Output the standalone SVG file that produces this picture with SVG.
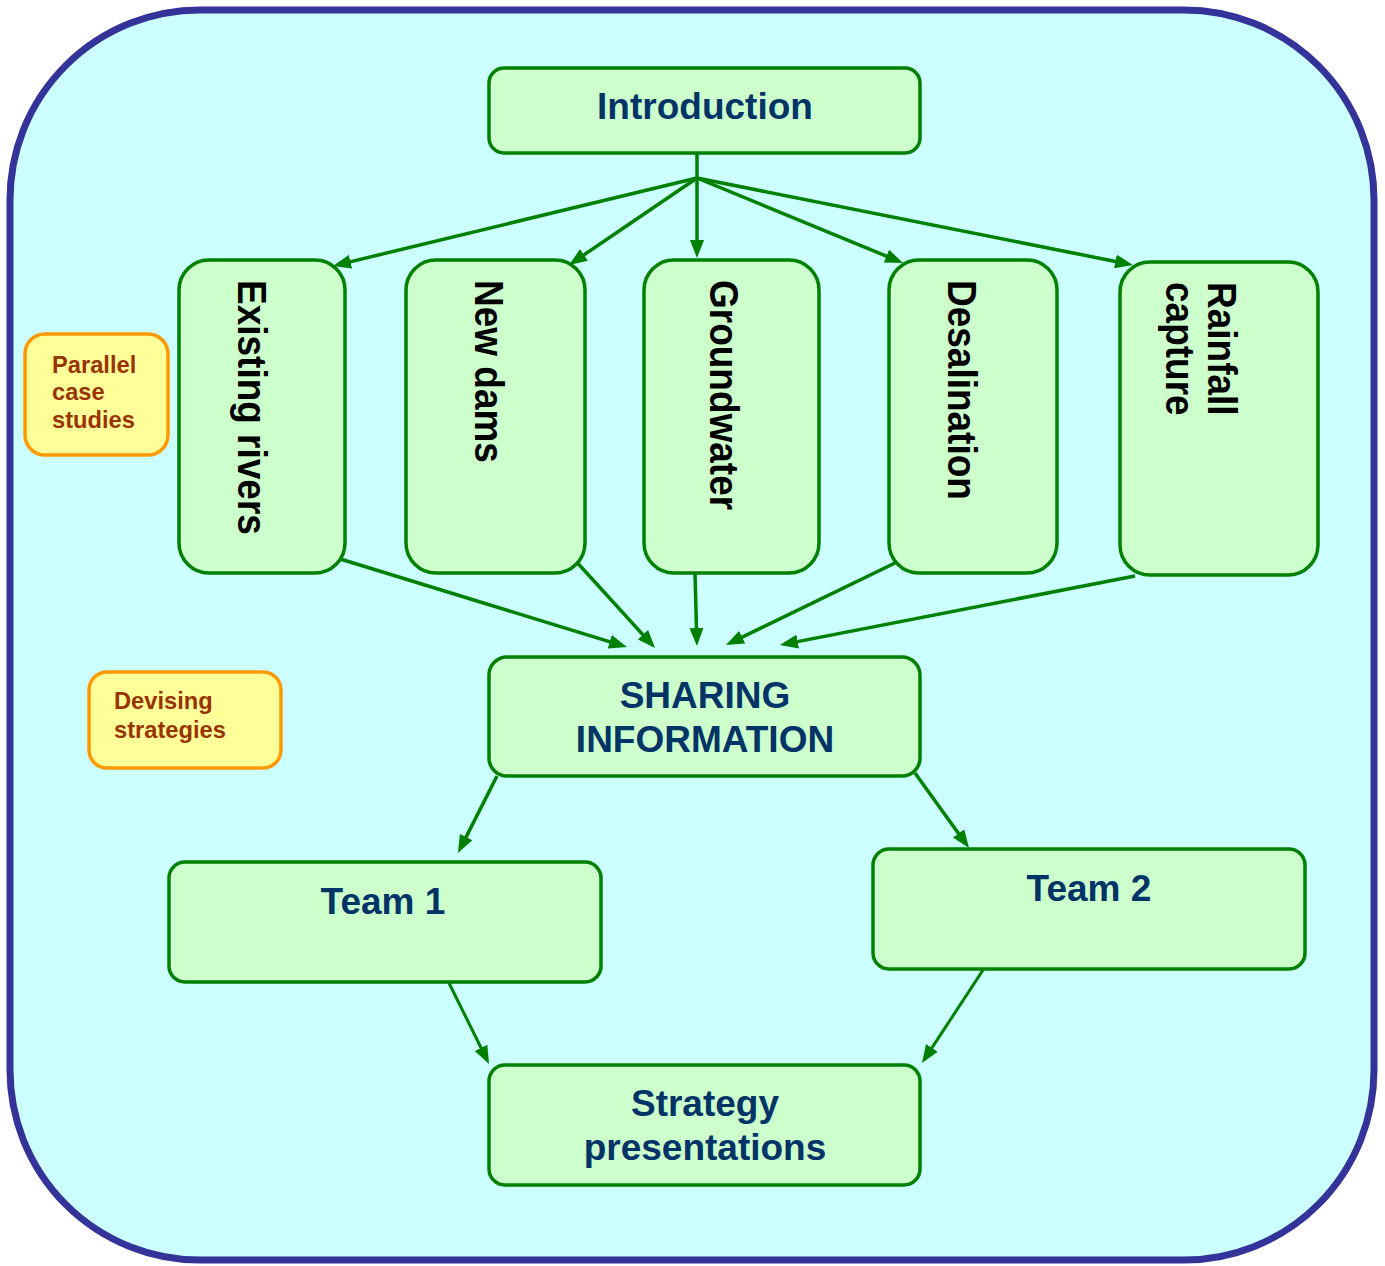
<svg xmlns="http://www.w3.org/2000/svg" width="1385" height="1266" viewBox="0 0 1385 1266">
  <style>
    .frame { fill: #CCFFFF; stroke: #333399; stroke-width: 7; }
    .box { fill: #CCFFCC; stroke: #008000; stroke-width: 3.5; }
    .note { fill: #FFFF99; stroke: #FF9900; stroke-width: 3.5; }
    .title { font-family: "Liberation Sans", Arial, sans-serif; font-weight: bold; font-size: 37px; fill: #003366; text-anchor: middle; }
    .vert { font-family: "Liberation Sans", Arial, sans-serif; font-weight: bold; font-size: 37px; fill: #000000; }
    .noteText { font-family: "Liberation Sans", Arial, sans-serif; font-weight: bold; font-size: 23.7px; fill: #993300; }
    .link { fill: none; stroke: #008000; stroke-width: 3.5; marker-end: url(#arrow); }
    .thin { stroke-width: 3; }
  </style>
  <defs>
    <marker id="arrow" viewBox="0 0 18 14" markerUnits="userSpaceOnUse" markerWidth="18" markerHeight="14" refX="8" refY="7" orient="auto">
      <path d="M0,0 L18,7 L0,14 z" fill="#008000"/>
    </marker>
  </defs>

  <!-- background frame -->
  <rect class="frame" x="10" y="10" width="1364" height="1250" rx="190" ry="190"/>

  <!-- connectors -->
  <g id="connectors">
    <line x1="697" y1="153" x2="697" y2="178" style="fill:none;stroke:#008000;stroke-width:3.5"/>
    <line class="link" x1="697" y1="178" x2="342.7" y2="263.6"/>
    <line class="link" x1="697" y1="178" x2="577.3" y2="259.4"/>
    <line class="link" x1="697" y1="178" x2="697" y2="248"/>
    <line class="link" x1="697" y1="178" x2="893.8" y2="259.2"/>
    <line class="link" x1="697" y1="178" x2="1123.2" y2="263"/>

    <line class="link" x1="337" y1="558" x2="617.4" y2="644.1"/>
    <line class="link" x1="573" y1="558" x2="648.3" y2="640.6"/>
    <line class="link" x1="695" y1="573" x2="696.7" y2="636"/>
    <line class="link" x1="895" y1="563" x2="735" y2="640.6"/>
    <line class="link" x1="1135" y1="576" x2="789.8" y2="643.1"/>

    <line class="link" x1="497" y1="776" x2="462.5" y2="844.1"/>
    <line class="link" x1="915" y1="773" x2="963.2" y2="839.9"/>

    <line class="link thin" x1="449" y1="983" x2="484.6" y2="1055"/>
    <line class="link thin" x1="983" y1="970" x2="927.5" y2="1054.6"/>
  </g>

  <!-- nodes -->
  <g id="introduction">
    <rect class="box" x="489" y="68" width="431" height="85" rx="15"/>
    <text class="title" x="705" y="119">Introduction</text>
  </g>

  <g id="existing-rivers">
    <rect class="box" x="179" y="260" width="166" height="313" rx="30"/>
    <text class="vert" transform="translate(238 280) rotate(90) scale(1 1.1)">Existing rivers</text>
  </g>

  <g id="new-dams">
    <rect class="box" x="406" y="260" width="179" height="313" rx="30"/>
    <text class="vert" transform="translate(475 280) rotate(90) scale(1 1.1)">New dams</text>
  </g>

  <g id="groundwater">
    <rect class="box" x="644" y="260" width="175" height="313" rx="30"/>
    <text class="vert" transform="translate(710 280) rotate(90) scale(1 1.1)">Groundwater</text>
  </g>

  <g id="desalination">
    <rect class="box" x="889" y="260" width="168" height="313" rx="30"/>
    <text class="vert" transform="translate(948 280) rotate(90) scale(1 1.1)">Desalination</text>
  </g>

  <g id="rainfall-capture">
    <rect class="box" x="1120" y="262" width="198" height="313" rx="30"/>
    <text class="vert" transform="translate(1208 282) rotate(90) scale(1 1.1)"><tspan x="0" y="0">Rainfall</tspan><tspan x="0" y="38">capture</tspan></text>
  </g>

  <g id="parallel-case-studies">
    <rect class="note" x="25" y="334" width="143" height="121" rx="20"/>
    <text class="noteText"><tspan x="52" y="373">Parallel</tspan><tspan x="52" y="400">case</tspan><tspan x="52" y="428">studies</tspan></text>
  </g>

  <g id="devising-strategies">
    <rect class="note" x="89" y="672" width="192" height="96" rx="18"/>
    <text class="noteText"><tspan x="114" y="709">Devising</tspan><tspan x="114" y="738">strategies</tspan></text>
  </g>

  <g id="sharing-information">
    <rect class="box" x="489" y="657" width="431" height="119" rx="18"/>
    <text class="title"><tspan x="705" y="708">SHARING</tspan><tspan x="705" y="752">INFORMATION</tspan></text>
  </g>

  <g id="team-1">
    <rect class="box" x="169" y="862" width="432" height="120" rx="16"/>
    <text class="title" x="383" y="914">Team 1</text>
  </g>

  <g id="team-2">
    <rect class="box" x="873" y="849" width="432" height="120" rx="16"/>
    <text class="title" x="1089" y="901">Team 2</text>
  </g>

  <g id="strategy-presentations">
    <rect class="box" x="489" y="1065" width="431" height="120" rx="16"/>
    <text class="title"><tspan x="705" y="1116">Strategy</tspan><tspan x="705" y="1160">presentations</tspan></text>
  </g>
</svg>
